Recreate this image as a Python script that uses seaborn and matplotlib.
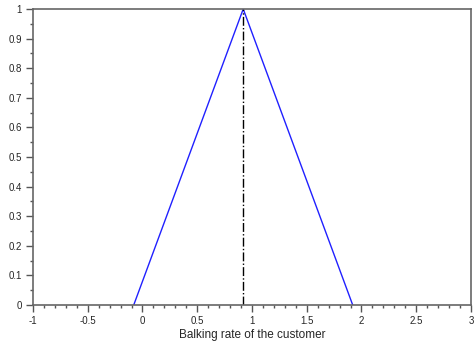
import numpy as np
import pandas as pd
import matplotlib
matplotlib.use('Agg')
import matplotlib.pyplot as plt
import seaborn as sns
from matplotlib.ticker import MultipleLocator

# triangular membership function of the balking rate
rate = [-0.08, 0.92, 1.92]
membership = [0.0, 1.0, 0.0]
peak = 0.92

sns.set_style('white')
plt.rcParams['font.family'] = ['Liberation Sans', 'DejaVu Sans']

fig = plt.figure(figsize=(4.74, 3.47), dpi=100)
ax = fig.add_axes([0.0696, 0.121, 0.924, 0.853])

df = pd.DataFrame({'rate': rate, 'membership': membership})
sns.lineplot(data=df, x='rate', y='membership', ax=ax, color='#2020ff', lw=1.0)
ax.plot([peak, peak], [0, 1], color='black', ls='-.', lw=1.0)

ax.set_xlim(-1, 3)
ax.set_ylim(0, 1)
ax.xaxis.set_major_locator(MultipleLocator(0.5))
ax.xaxis.set_minor_locator(MultipleLocator(0.1))
ax.yaxis.set_major_locator(MultipleLocator(0.1))
ax.yaxis.set_minor_locator(MultipleLocator(0.05))
ax.xaxis.set_major_formatter(plt.FuncFormatter(lambda v, p: f'{v:g}'))
ax.yaxis.set_major_formatter(plt.FuncFormatter(lambda v, p: f'{v:g}'))
ax.tick_params(which='major', direction='out', length=5, width=1, color='#555555',
               labelsize=7, bottom=True, left=True, pad=3)
ax.tick_params(which='minor', direction='out', length=2.5, width=1, color='#555555',
               bottom=True, left=True)
for s in ax.spines.values():
    s.set_color('#666666')
    s.set_linewidth(1.2)

ax.set_xlabel('Balking rate of the customer', fontsize=8.5, labelpad=2)
ax.set_ylabel('')

fig.savefig('out.png', dpi=100)
